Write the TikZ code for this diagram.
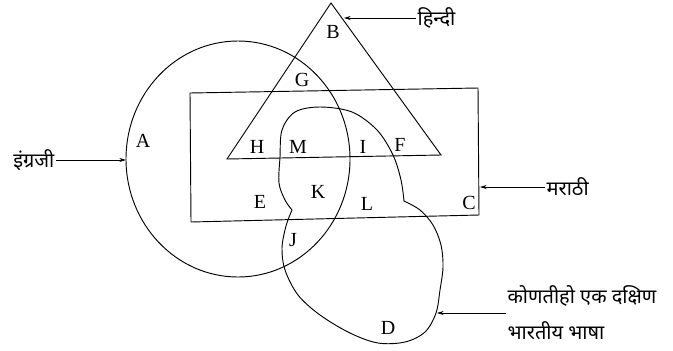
\documentclass[tikz,border=0pt]{standalone}
\usepackage{fontspec}
\setmainfont{Liberation Serif}
\newfontfamily\devfont[Script=Devanagari]{Noto Sans}
\usetikzlibrary{arrows.meta}
\tikzset{
  region label/.style={font=\fontsize{15}{17}\selectfont,inner sep=0pt},
  lang label/.style={font=\devfont\fontsize{15}{27}\selectfont,inner sep=1pt,align=left},
  lang arrow/.style={-{Stealth[length=5pt,width=3pt]},line width=0.55pt},
  set line/.style={line width=0.7pt},
}

\begin{document}
\begin{tikzpicture}[x=0.75pt,y=-0.75pt]
  \useasboundingbox (0,0) rectangle (673,350);
  % sets
  \draw[set line] (331,3) -- (441,155) -- (227,159) -- cycle;
  \draw[set line] (190,93) -- (478,88) -- (479,215) -- (191,222) -- cycle;
  \draw[set line] (238,159) ellipse [x radius=84pt,y radius=88.5pt];
  \draw[set line] plot[smooth,tension=0.55] coordinates {(292,210) (285,200) (279,183) (280,157) (282,130) (295,112) (320,107) (352,112) (377,130) (393,155) (401,180) (404,201)}
    -- plot[smooth,tension=0.55] coordinates {(404,201) (420,210) (433,225) (441,245) (443,267) (440,290) (436,313) (425,332) (405,342) (378,343) (350,333) (320,315) (298,295) (285,270) (282,248) (286,226) (292,210)} -- cycle;
  % region letters
  \node[region label] (B) at (333,32) {B};
  \node[region label] (G) at (302,80) {G};
  \node[region label] (A) at (143,141) {A};
  \node[region label] (H) at (257,147) {H};
  \node[region label] (M) at (298,147) {M};
  \node[region label] (I) at (363,147) {I};
  \node[region label] (F) at (400,145) {F};
  \node[region label] (E) at (260,202) {E};
  \node[region label] (K) at (318,192) {K};
  \node[region label] (L) at (367,204) {L};
  \node[region label] (C) at (469,203) {C};
  \node[region label] (J) at (293,240) {J};
  \node[region label] (D) at (388,328) {D};
  % language names
  \node[lang label,anchor=west] (hindi) at (416,18) {हिन्दी};
  \node[lang label,anchor=east] (english) at (56,160) {इंग्रजी};
  \node[lang label,anchor=west] (marathi) at (545,187) {मराठी};
  \node[lang label,anchor=west] (south) at (506,313) {कोणतीहो एक दक्षिण\\भारतीय भाषा};
  \coordinate (hindi tip) at (344,18);
  \coordinate (english tip) at (126,160);
  \coordinate (marathi tip) at (480,187);
  \coordinate (south tip) at (437,313);
  \draw[lang arrow] (hindi.west) -- (hindi tip);
  \draw[lang arrow] (english.east) -- (english tip);
  \draw[lang arrow] (marathi.west) -- (marathi tip);
  \draw[lang arrow] (south.west) -- (south tip);
\end{tikzpicture}
\end{document}
